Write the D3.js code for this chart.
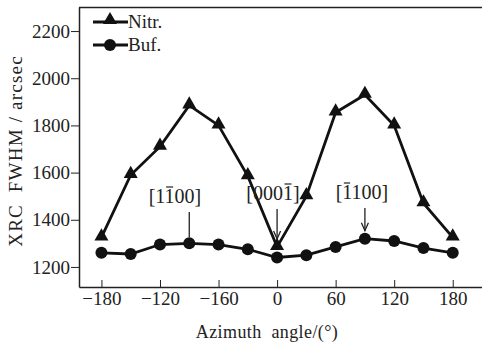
<!DOCTYPE html>
<html>
<head>
<meta charset="utf-8">
<script src="https://cdn.jsdelivr.net/npm/d3@7"></script>
<style>
  body { margin: 0; background: #fff; }
  text { font-family: "Liberation Serif", "DejaVu Serif", serif; fill: #222; }
</style>
</head>
<body>
<figure id="chart" style="margin:0"></figure>
<script>
// azimuth angles (deg)
const angles = [-180, -150, -120, -90, -60, -30, 0, 30, 60, 90, 120, 150, 180];
// XRC FWHM (arcsec)
const nitr = [1325, 1590, 1710, 1885, 1800, 1585, 1285, 1500, 1855, 1930, 1800, 1470, 1325];
const buf  = [1260, 1255, 1295, 1300, 1295, 1275, 1240, 1250, 1285, 1320, 1310, 1280, 1260];

const xTicks = [-180, -120, -60, 0, 60, 120, 180];
const xTickLabels = ["\u2212180", "\u2212120", "\u2212160", "0", "60", "120", "180"];
const yTicks = [1200, 1400, 1600, 1800, 2000, 2200];

const width = 482, height = 345;
const mLeft = 79, mTop = 7, mRight = 482, mBottom = 287;

const svg = d3.select("figure#chart")
  .append("svg")
  .attr("width", width)
  .attr("height", height);

const x = d3.scaleLinear().domain([-203, 210]).range([mLeft, mRight]);
const y = d3.scaleLinear().domain([1115, 2302]).range([mBottom, mTop]);

// frame: top line
svg.append("line")
  .attr("x1", mLeft).attr("x2", width).attr("y1", mTop + 0.5).attr("y2", mTop + 0.5)
  .attr("stroke", "#222").attr("stroke-width", 1.5);

// X axis - ticks pointing inward
const xAxis = svg.append("g")
  .attr("transform", "translate(0," + mBottom + ")")
  .call(d3.axisBottom(x).tickValues(xTicks).tickSizeInner(-7).tickSizeOuter(0)
    .tickFormat((d, i) => xTickLabels[i]));
xAxis.select(".domain").attr("stroke", "#222").attr("stroke-width", 1.5);
xAxis.selectAll(".tick line").attr("stroke", "#222");
xAxis.selectAll(".tick text").attr("font-size", 19).attr("y", 5).attr("dy", "0.71em");

// Y axis - ticks outward
const yAxis = svg.append("g")
  .attr("transform", "translate(" + mLeft + ",0)")
  .call(d3.axisLeft(y).tickValues(yTicks).tickSizeInner(8).tickSizeOuter(0).tickFormat(d3.format("d")));
yAxis.select(".domain").attr("stroke", "#222").attr("stroke-width", 1.5);
yAxis.selectAll(".tick line").attr("stroke", "#222");
yAxis.selectAll(".tick text").attr("font-size", 19).attr("x", -9);

// axis titles
svg.append("text")
  .attr("x", 267).attr("y", 338)
  .attr("text-anchor", "middle").attr("font-size", 18)
  .attr("letter-spacing", 0.4)
  .attr("xml:space", "preserve")
  .text("Azimuth  angle/(\u00b0)");

svg.append("text")
  .attr("transform", "translate(22,151) rotate(-90)")
  .attr("text-anchor", "middle").attr("font-size", 19)
  .attr("letter-spacing", 1.2)
  .attr("xml:space", "preserve")
  .text("XRC  FWHM / arcsec");

// Lines
const line = (vals) => d3.line().x((d, i) => x(angles[i])).y(d => y(d))(vals);

svg.append("path").attr("d", line(buf))
  .attr("fill", "none").attr("stroke", "#111").attr("stroke-width", 2.8);
svg.append("path").attr("d", line(nitr))
  .attr("fill", "none").attr("stroke", "#111").attr("stroke-width", 2.8);

const tri = d3.symbol().type(d3.symbolTriangle).size(85);
svg.append("g").selectAll("path")
  .data(nitr).enter().append("path")
  .attr("d", tri)
  .attr("transform", (d, i) => "translate(" + x(angles[i]) + "," + (y(d) - 1) + ")")
  .attr("fill", "#111");

svg.append("g").selectAll("circle")
  .data(buf).enter().append("circle")
  .attr("cx", (d, i) => x(angles[i]))
  .attr("cy", d => y(d))
  .attr("r", 6)
  .attr("fill", "#111");

// Legend
const legend = svg.append("g");
[["Nitr.", "tri", 22], ["Buf.", "circ", 45]].forEach(([name, kind, ly]) => {
  legend.append("line").attr("x1", 93).attr("x2", 128).attr("y1", ly).attr("y2", ly)
    .attr("stroke", "#111").attr("stroke-width", 3);
  if (kind === "tri") {
    legend.append("path").attr("d", tri).attr("transform", "translate(110," + (ly - 2) + ")").attr("fill", "#111");
  } else {
    legend.append("circle").attr("cx", 110).attr("cy", ly).attr("r", 6).attr("fill", "#111");
  }
  legend.append("text").attr("x", 128).attr("y", ly + 6).attr("font-size", 19).text(name);
});

// annotations: label text, index of barred digit, angle, value, label position, arrow
function annotate(label, barIdx, angle, value, lx, ly, arrow) {
  const t = svg.append("text").attr("x", lx).attr("y", ly)
    .attr("text-anchor", "middle").attr("font-size", 20).text(label);
  const ext = t.node().getExtentOfChar(barIdx);
  svg.append("line")
    .attr("x1", ext.x + 1.5).attr("x2", ext.x + ext.width - 1.5)
    .attr("y1", ly - 16).attr("y2", ly - 16)
    .attr("stroke", "#222").attr("stroke-width", 1.2);
  const px = x(angle);
  const endY = y(value) - (arrow ? 8 : 6);
  svg.append("line").attr("x1", px).attr("x2", px).attr("y1", ly + 9).attr("y2", endY)
    .attr("stroke", "#222").attr("stroke-width", 1.3);
  if (arrow) {
    svg.append("path")
      .attr("d", "M" + (px - 3.5) + "," + (endY - 8) + "L" + px + "," + endY + "L" + (px + 3.5) + "," + (endY - 8))
      .attr("fill", "none").attr("stroke", "#222").attr("stroke-width", 1.3);
  }
}
annotate("[1100]", 2, -90, buf[3], 175, 203, false);
annotate("[0001]", 4, 0, nitr[6], 273, 200, true);
annotate("[1100]", 1, 90, buf[9], 362, 199, true);
</script>
</body>
</html>
